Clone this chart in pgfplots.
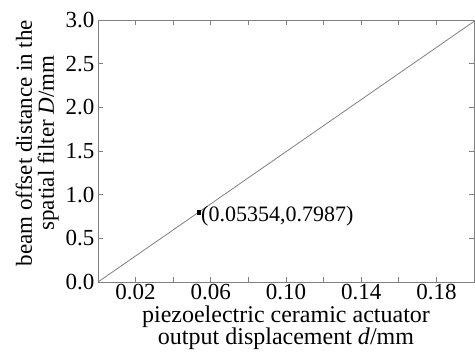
\documentclass[border=0pt]{standalone}
\usepackage{pgfplots}
\pgfplotsset{compat=1.18}
\usepackage{fontspec}
\setmainfont{Liberation Serif}
\begin{document}
\begin{tikzpicture}
\useasboundingbox (-98pt,-72pt) rectangle (377pt,282pt);
\begin{axis}[
  at={(0,0)}, anchor=south west,
  scale only axis, width=376pt, height=262pt,
  xmin=0, xmax=0.2, ymin=0, ymax=3.0,
  xtick={0.02,0.06,0.10,0.14,0.18},
  minor xtick={0.04,0.08,0.12,0.16},
  ytick={0,0.5,1.0,1.5,2.0,2.5,3.0},
  tick align=inside,
  major tick length=5pt, minor tick length=5pt,
  axis line style={gray, line width=0.8pt},
  tick style={gray, line width=0.7pt},
  every tick label/.append style={black},
  font=\fontsize{23}{22}\selectfont,
  /pgf/number format/assume math mode=true,
  xticklabel style={yshift=1.5pt, /pgf/number format/.cd, fixed, fixed zerofill, precision=2},
  yticklabel style={/pgf/number format/.cd, fixed, fixed zerofill, precision=1},
  xlabel={piezoelectric ceramic actuator\\output displacement \textit{d}/mm},
  ylabel={beam offset distance in the\\spatial filter \textit{D}/mm},
  xlabel style={align=center, text depth=0pt, yshift=1pt, font=\fontsize{24}{22}\selectfont},
  ylabel style={align=center, xshift=8pt},
]
\addplot[gray, line width=0.8pt] coordinates {(0,0) (0.05354,0.7987) (0.2,2.984)};
\addplot[only marks, mark=square*, mark size=1.6pt, black] coordinates {(0.05354,0.7987)}
  node[anchor=west, xshift=-1pt, yshift=-4pt, black, font=\fontsize{22}{22}\selectfont] {(0.05354,0.7987)};
\end{axis}
\end{tikzpicture}
\end{document}
